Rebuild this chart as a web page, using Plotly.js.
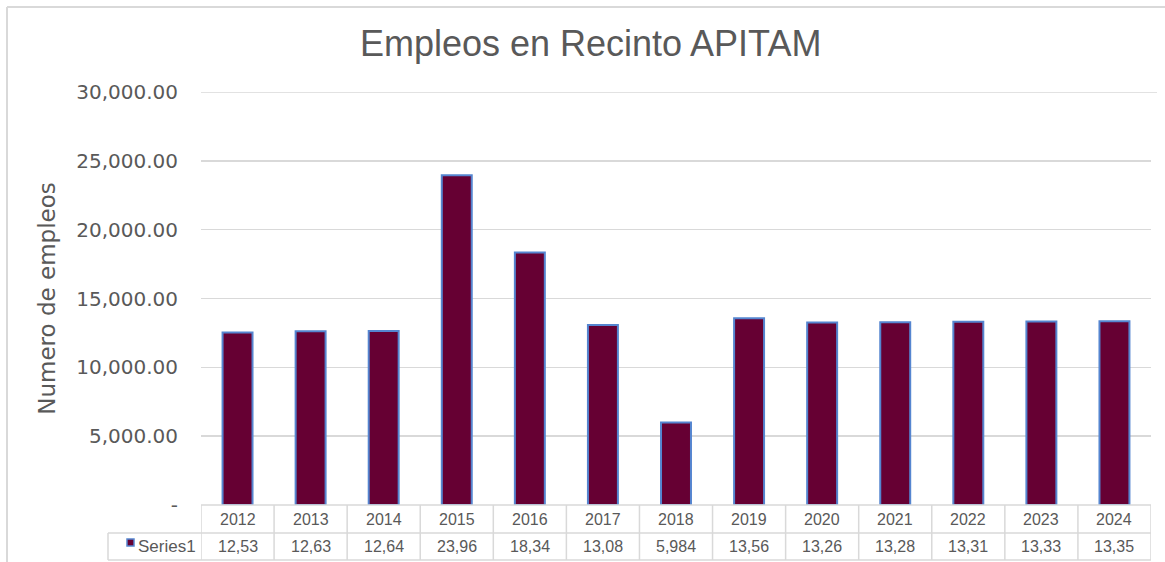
<!DOCTYPE html>
<html>
<head>
<meta charset="utf-8">
<script src="https://cdn.plot.ly/plotly-3.0.1.min.js"></script>
<style>html,body{margin:0;padding:0;background:#fff;}#chart{width:1165px;height:562px;}</style>
</head>
<body>
<div id="chart"></div>
<script>
const years = ["2012","2013","2014","2015","2016","2017","2018","2019","2020","2021","2022","2023","2024"];
const empleos = [12530, 12630, 12640, 23960, 18340, 13080, 5984, 13560, 13260, 13280, 13310, 13330, 13350];
const seriesName = "Series1";
const yTickVals = [0, 5000, 10000, 15000, 20000, 25000, 30000];
const yTickText = ["-", "5,000.00", "10,000.00", "15,000.00", "20,000.00", "25,000.00", "30,000.00"];
const titleText = "Empleos en Recinto APITAM";
const yTitleText = "Numero de empleos";

// Excel data table shows truncated text (5 chars)
const tableText = empleos.map(v => v.toLocaleString("en-US").slice(0, 5));

const W = 1165, H = 562;
const L = 201, R = 14, T = 92, B = 57;
const plotW = W - L - R, plotH = H - T - B;
const px2x = px => (px - L) / plotW;           // paper x
const py2y = py => (H - B - py) / plotH;        // paper y

const barColor = "#660033";
const edgeColor = "#5585d0";
const gridColor = "#d9d9d9";
const textColor = "#595959";
const tableLine = "#d9d9d9";
const cellFont = {family: "Liberation Sans, Arial, sans-serif", size: 16, color: textColor};

const row1Top = py2y(505), row1Bot = py2y(533), row2Bot = py2y(560);

const shapes = [];
// outer frame
shapes.push({type: "line", xref: "paper", yref: "paper", x0: px2x(7), x1: px2x(1170), y0: py2y(7), y1: py2y(7), line: {color: "#d9d9d9", width: 2}});
shapes.push({type: "line", xref: "paper", yref: "paper", x0: px2x(7), x1: px2x(7), y0: py2y(7), y1: py2y(570), line: {color: "#d9d9d9", width: 2}});
// top gridline (at range edge)
shapes.push({type: "line", xref: "paper", yref: "y", x0: 0, x1: px2x(1157), y0: yTickVals[yTickVals.length - 1], y1: yTickVals[yTickVals.length - 1], line: {color: gridColor, width: 1.5}});
// table horizontal lines
shapes.push({type: "line", xref: "paper", yref: "paper", x0: 0, x1: 1, y0: row1Top, y1: row1Top, line: {color: tableLine, width: 1.5}});
shapes.push({type: "line", xref: "paper", yref: "paper", x0: px2x(108), x1: 1, y0: row1Bot, y1: row1Bot, line: {color: tableLine, width: 1.5}});
shapes.push({type: "line", xref: "paper", yref: "paper", x0: px2x(108), x1: 1, y0: row2Bot, y1: row2Bot, line: {color: tableLine, width: 1.5}});
shapes.push({type: "line", xref: "paper", yref: "paper", x0: px2x(108), x1: px2x(108), y0: row1Bot, y1: row2Bot, line: {color: tableLine, width: 1.5}});
// table vertical lines
for (let i = 0; i <= years.length; i++) {
  shapes.push({type: "line", xref: "x", yref: "paper", x0: i - 0.5, x1: i - 0.5, y0: row1Top, y1: row2Bot, line: {color: tableLine, width: 1.5}});
}
// legend key square
shapes.push({type: "rect", xref: "paper", yref: "paper", x0: px2x(127), x1: px2x(134), y0: py2y(539), y1: py2y(546), fillcolor: barColor, line: {color: edgeColor, width: 1.5}});

const annotations = [];
years.forEach((yr, i) => {
  annotations.push({xref: "x", yref: "paper", x: i, y: (row1Top + row1Bot) / 2, text: yr, showarrow: false, font: cellFont, xanchor: "center", yanchor: "middle"});
  annotations.push({xref: "x", yref: "paper", x: i, y: (row1Bot + row2Bot) / 2, text: tableText[i], showarrow: false, font: cellFont, xanchor: "center", yanchor: "middle"});
});
annotations.push({xref: "paper", yref: "paper", x: px2x(136), y: (row1Bot + row2Bot) / 2, text: seriesName, showarrow: false,
  font: {family: "Liberation Sans, Arial, sans-serif", size: 17, color: textColor}, xanchor: "left", yanchor: "middle"});

const trace = {
  type: "bar",
  x: years,
  y: empleos,
  name: seriesName,
  width: 0.41,
  marker: {color: barColor, line: {color: edgeColor, width: 2}},
  hoverinfo: "x+y"
};

const layout = {
  width: W, height: H,
  margin: {l: L, r: R, t: T, b: B, pad: 0},
  paper_bgcolor: "#ffffff",
  plot_bgcolor: "#ffffff",
  showlegend: false,
  title: {text: titleText, x: 0.507, xanchor: "center", y: 1 - 43 / H, yanchor: "middle",
    font: {family: "Liberation Sans, Arial, sans-serif", size: 36, color: textColor}},
  xaxis: {type: "category", range: [-0.5, years.length - 0.5], showticklabels: false, showgrid: false, zeroline: false, showline: false, ticks: "", fixedrange: true},
  yaxis: {range: [0, 30000], tickvals: yTickVals, ticktext: yTickText, showgrid: true, gridcolor: gridColor, gridwidth: 1.5, zeroline: false, showline: false,
    ticks: "", ticklabelstandoff: 22,
    tickfont: {family: "DejaVu Sans, sans-serif", size: 20, color: textColor},
    title: {text: yTitleText, standoff: 14, font: {family: "DejaVu Sans, sans-serif", size: 23, color: textColor}}},
  shapes: shapes,
  annotations: annotations,
  bargap: 0.59
};

Plotly.newPlot("chart", [trace], layout, {displayModeBar: false, staticPlot: true});
</script>
</body>
</html>
